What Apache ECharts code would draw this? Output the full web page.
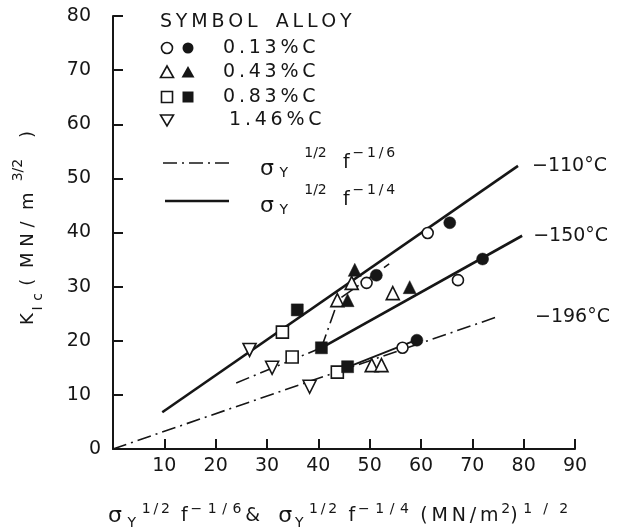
<!DOCTYPE html>
<html>
<head>
<meta charset="utf-8">
<script src="https://cdn.jsdelivr.net/npm/echarts@6/dist/echarts.min.js"></script>
<style>html,body{margin:0;padding:0;background:#fff}#c{width:627px;height:532px}</style>
</head>
<body>
<div id="c"></div>
<script>
// ---- data ----
const xTicks = [10, 20, 30, 40, 50, 60, 70, 80, 90];
const yTicks = [0, 10, 20, 30, 40, 50, 60, 70, 80];
const alloys = ['0.13%C', '0.43%C', '0.83%C', '1.46%C'];
const temps = ['−110°C', '−150°C', '−196°C'];

const c013Open   = [[49.4,30.7],[61.3,39.9],[67.2,31.2],[56.4,18.7]];
const c013Filled = [[51.3,32.1],[65.6,41.8],[72.0,35.1],[59.2,20.1]];
const c043Open   = [[46.5,30.7],[43.7,27.5],[54.5,28.8],[50.4,15.5],[52.3,15.5]];
const c043Filled = [[47.1,33.1],[45.7,27.5],[57.8,29.9]];
const c083Open   = [[33.0,21.6],[34.9,17.0],[43.7,14.2]];
const c083Filled = [[35.9,25.7],[40.6,18.7],[45.7,15.2]];
const c146Open   = [[26.6,18.3],[31.0,15.0],[38.3,11.5]];

const fit110Solid = [[9.6,6.8],[78.9,52.3]];
const fit110DashA = [[40.6,18.7],[44.0,27.8]];
const fit110DashB = [[44.5,28.0],[53.8,34.2]];
const fit150Solid = [[40.6,18.7],[79.7,39.4]];
const fit150Dash  = [[24.0,12.2],[40.6,18.7]];
const fit196Dash  = [[0,0],[74.8,24.4]];
const fit196Solid = [[43.5,14.3],[59.5,20.3]];

// ---- styling ----
const INK = '#161616';
const FONT = 'DejaVu Sans';
const DASHDOT = [14, 5, 2, 5];
const T = '\u2009';
const sp = s => s.split('').join(T);
const sp2 = s => s.split('').join(T + T);
const sp4 = s => s.split('').join(T + T + T + T);

function lineSeries(data, dashed, width, label, dist) {
  const s = {
    type: 'line', data: data, symbol: 'none', silent: true, z: 2,
    lineStyle: { color: INK, width: width, type: dashed ? DASHDOT : 'solid', cap: 'butt' },
    animation: false
  };
  if (label) {
    s.endLabel = { show: true, formatter: label, color: INK, fontFamily: FONT, fontSize: 19, distance: dist };
  }
  return s;
}
function scatter(data, symbol, filled, size, rotate) {
  return {
    type: 'scatter', data: data, symbol: symbol, symbolSize: size, symbolRotate: rotate || 0, z: 5,
    itemStyle: { color: filled ? INK : '#fff', borderColor: INK, borderWidth: filled ? 0.5 : 1.6, opacity: 1 },
    animation: false
  };
}

const rich = {
  m:    { fontFamily: FONT, fontSize: 19, color: INK, lineHeight: 34, verticalAlign: 'middle' },
  my:   { fontFamily: FONT, fontSize: 18, color: INK, lineHeight: 34, verticalAlign: 'middle' },
  sl:   { fontFamily: FONT, fontSize: 22, color: INK, lineHeight: 26, verticalAlign: 'bottom' },
  sup:  { fontFamily: FONT, fontSize: 14, color: INK, lineHeight: 14, verticalAlign: 'top' },
  sub:  { fontFamily: FONT, fontSize: 14, color: INK, lineHeight: 14, verticalAlign: 'bottom' },
  xm:   { fontFamily: FONT, fontSize: 19, color: INK, lineHeight: 28, verticalAlign: 'middle' },
  xs:   { fontFamily: FONT, fontSize: 22, color: INK, lineHeight: 28, verticalAlign: 'middle' }
};

function txt(x, y, text, align, extra) {
  return Object.assign({
    type: 'text', x: x, y: y, z: 10,
    style: { text: text, fontFamily: FONT, fontSize: 19, fill: INK, align: align || 'left', verticalAlign: 'middle', rich: rich }
  }, extra || {});
}

const legendX1 = 167, legendX2 = 188;
const rowsY = [48, 72, 97, 120];

const legendFormula = exp =>
  '{sl|σ}{sub|' + T + T + 'Y}{sup|   ' + T + '1/2   ' + T + '}{m|f}{sup|' + T + sp(exp) + '}';

const xTitle =
  '{xs|σ}{sub|' + T + T + 'Y}{sup|' + T + T + sp('1/2') + T + T + T + T + '}{xm|f}' +
  '{sup|' + T + sp2('−1/6') + '}{xm|' + T + '&   }' +
  '{xs|σ}{sub|' + T + 'Y}{sup|' + T + T + sp('1/2') + T + T + T + T + '}{xm|f}' +
  '{sup|' + T + sp2('−1/4') + '}{xm|' + T + T + T + '(' + T + 'M' + T + 'N' + T + '/' + T + 'm}' +
  '{sup|' + T + '2}{xm|)}{sup|' + T + T + sp4('1/2') + '}';

const yTitle =
  '{my|K}{sub|' + T + 'I' + T + T + 'c}{my|' + T + T + '(' + T + T + T + 'M N /  m}' +
  '{sup|' + T + T + T + T + '3/2}{my|   ' + T + ')}';

const graphics = [
  txt(160, 22, sp('SYMBOL') + '   ' + sp('ALLOY')),
  { type: 'circle', shape: { cx: legendX1, cy: rowsY[0], r: 5.5 }, style: { fill: '#fff', stroke: INK, lineWidth: 1.6 } },
  { type: 'circle', shape: { cx: legendX2, cy: rowsY[0], r: 5.5 }, style: { fill: INK } },
  { type: 'polygon', shape: { points: [[legendX1-6.5,rowsY[1]+5.5],[legendX1+6.5,rowsY[1]+5.5],[legendX1,rowsY[1]-6]] }, style: { fill: '#fff', stroke: INK, lineWidth: 1.6 } },
  { type: 'polygon', shape: { points: [[legendX2-6.5,rowsY[1]+5.5],[legendX2+6.5,rowsY[1]+5.5],[legendX2,rowsY[1]-6]] }, style: { fill: INK } },
  { type: 'rect', shape: { x: legendX1-5.5, y: rowsY[2]-5.5, width: 11, height: 11 }, style: { fill: '#fff', stroke: INK, lineWidth: 1.6 } },
  { type: 'rect', shape: { x: legendX2-5.5, y: rowsY[2]-5.5, width: 11, height: 11 }, style: { fill: INK } },
  { type: 'polygon', shape: { points: [[legendX1-6.5,rowsY[3]-5],[legendX1+6.5,rowsY[3]-5],[legendX1,rowsY[3]+6]] }, style: { fill: '#fff', stroke: INK, lineWidth: 1.6 } },
  txt(223, rowsY[0], sp(alloys[0])),
  txt(223, rowsY[1], sp(alloys[1])),
  txt(223, rowsY[2], sp(alloys[2])),
  txt(229, rowsY[3], sp(alloys[3])),
  { type: 'line', shape: { x1: 163, y1: 163, x2: 229, y2: 163 }, style: { stroke: INK, lineWidth: 1.6, lineDash: DASHDOT } },
  { type: 'line', shape: { x1: 165, y1: 201, x2: 229, y2: 201 }, style: { stroke: INK, lineWidth: 2.6 } },
  txt(260, 163, legendFormula('−1/6')),
  txt(260, 200, legendFormula('−1/4')),
  // y-axis title (reads bottom to top)
  txt(28, 325, yTitle, 'left', { rotation: Math.PI / 2 }),
  // x-axis title
  txt(108, 516, xTitle, 'left')
];

const option = {
  backgroundColor: '#fff',
  animation: false,
  grid: { left: 113, right: 52, top: 16, bottom: 83, containLabel: false },
  xAxis: {
    type: 'value', min: 0, max: 90, interval: 10,
    axisLine: { show: true, onZero: false, lineStyle: { color: INK, width: 2 } },
    axisTick: { show: true, inside: true, length: 10, lineStyle: { color: INK, width: 2 } },
    axisLabel: { color: INK, fontFamily: FONT, fontSize: 19, margin: 8, showMinLabel: false,
      formatter: v => xTicks.indexOf(v) >= 0 ? String(v) : '' },
    splitLine: { show: false }
  },
  yAxis: {
    type: 'value', min: 0, max: 80, interval: 10,
    axisLine: { show: true, onZero: false, lineStyle: { color: INK, width: 2 } },
    axisTick: { show: true, inside: true, length: 10, lineStyle: { color: INK, width: 2 } },
    axisLabel: { color: INK, fontFamily: FONT, fontSize: 19, margin: 12,
      formatter: v => yTicks.indexOf(v) < 0 ? '' : (v === 0 ? '{z|0}' : '{n|' + v + '}'),
      rich: {
        z: { fontFamily: FONT, fontSize: 19, color: INK },
        n: { fontFamily: FONT, fontSize: 19, color: INK, padding: [0, 10, 0, 0] }
      }
    },
    splitLine: { show: false }
  },
  graphic: graphics,
  series: [
    lineSeries(fit110Solid, false, 2.6, temps[0], 14),
    lineSeries(fit150Solid, false, 2.6, temps[1], 11),
    lineSeries(fit196Dash, true, 1.6, temps[2], 38),
    lineSeries(fit150Dash, true, 1.6),
    lineSeries(fit110DashA, true, 1.6),
    lineSeries(fit110DashB, true, 1.6),
    lineSeries(fit196Solid, false, 1.8),
    scatter(c013Open, 'circle', false, 11),
    scatter(c013Filled, 'circle', true, 12),
    scatter(c043Open, 'triangle', false, 13),
    scatter(c043Filled, 'triangle', true, 13),
    scatter(c083Open, 'rect', false, 12),
    scatter(c083Filled, 'rect', true, 12),
    scatter(c146Open, 'triangle', false, 13, 180)
  ]
};
const chart = echarts.init(document.getElementById('c'), null, { renderer: 'canvas' });
chart.setOption(option);
</script>
</body>
</html>
